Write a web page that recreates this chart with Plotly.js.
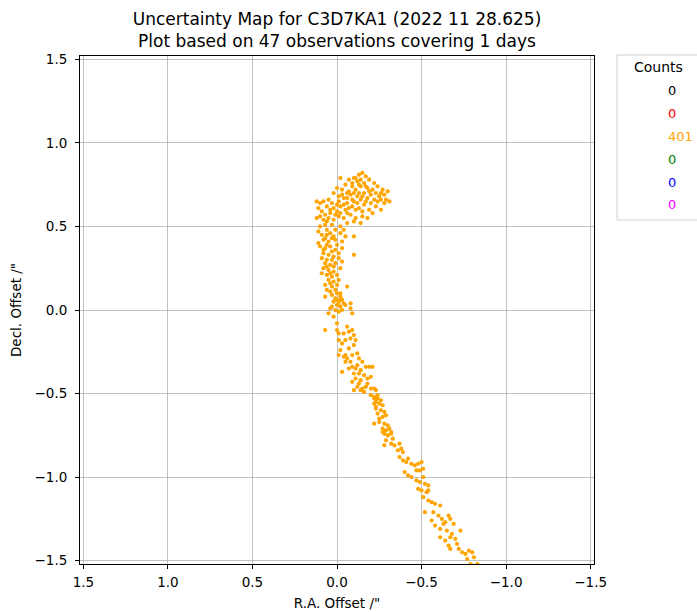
<!DOCTYPE html>
<html>
<head>
<meta charset="utf-8">
<script src="https://cdn.plot.ly/plotly-3.0.1.min.js"></script>
<style>html,body{margin:0;padding:0;background:#fff;}#chart{width:697px;height:612px;}</style>
</head>
<body>
<div id="chart"></div>
<script>
// ---- data: [R.A. offset, Decl. offset] in arcsec ----
var headPoints = [
[-0.02,0.79],[-0.10,0.79],[-0.13,0.81],[-0.15,0.82],[-0.17,0.80],[-0.12,0.77],[-0.19,0.78],[-0.07,0.78],[-0.22,0.76],[-0.16,0.76],
[-0.05,0.75],[-0.09,0.74],[-0.14,0.74],[-0.18,0.73],[-0.21,0.72],[-0.24,0.74],[-0.27,0.72],[-0.30,0.71],[-0.26,0.70],[-0.03,0.72],[-0.07,0.71],[-0.11,0.72],[-0.16,0.70],[-0.20,0.69],[0.00,0.73],
[0.02,0.70],[-0.01,0.68],[-0.04,0.67],[-0.08,0.69],[-0.12,0.68],[-0.14,0.66],[-0.18,0.67],[-0.22,0.66],[-0.25,0.68],[-0.29,0.66],[-0.31,0.65],[-0.28,0.64],[0.05,0.66],[0.03,0.64],[-0.10,0.65],[-0.06,0.64],
[0.12,0.65],[0.10,0.64],[0.08,0.65],[0.11,0.61],[0.06,0.62],[0.02,0.61],[-0.02,0.62],[-0.05,0.60],[-0.09,0.62],[-0.13,0.61],[-0.16,0.63],[-0.19,0.60],[-0.23,0.62],[-0.21,0.58],[-0.26,0.60],[0.00,0.59],[0.04,0.58],[0.09,0.59],[0.07,0.57],
[0.10,0.56],[0.12,0.55],[0.08,0.54],[0.05,0.55],[0.02,0.54],[-0.01,0.56],[-0.04,0.55],[-0.08,0.57],[-0.11,0.55],[-0.15,0.56],[-0.18,0.55],[-0.14,0.52],[-0.06,0.52],[-0.02,0.50],[0.03,0.51],[0.07,0.51],[0.10,0.50],
[-0.11,0.79],[-0.14,0.78],[-0.09,0.76],[-0.13,0.75],[-0.17,0.74],[-0.06,0.70],[-0.10,0.70],[-0.13,0.70],[-0.15,0.68],[-0.03,0.69],[-0.06,0.67],[-0.09,0.66],[-0.01,0.65],[-0.04,0.63],[-0.07,0.61],[-0.11,0.60],
[0.00,0.63],[-0.12,0.64],[-0.20,0.64],[-0.24,0.65],[-0.02,0.58],[-0.06,0.58],[0.04,0.60],[0.01,0.57],[0.06,0.53],[-0.10,0.53],[-0.19,0.71],[-0.23,0.70],[-0.28,0.69],[-0.26,0.66],[-0.17,0.65],[-0.15,0.59]
];
var upperColumnPoints = [
[0.01,0.48],[-0.04,0.48],[0.11,0.47],[0.09,0.45],[0.06,0.48],[0.04,0.46],[0.02,0.44],[-0.02,0.46],[-0.05,0.44],[-0.10,0.44],[0.08,0.42],[0.05,0.41],[0.01,0.42],[-0.03,0.41],[0.11,0.40],[0.07,0.43],
[0.10,0.38],[0.07,0.37],[0.04,0.38],[0.01,0.36],[-0.03,0.37],[0.08,0.34],[0.05,0.33],[0.02,0.32],[-0.01,0.34],[-0.10,0.33],[0.06,0.30],[0.09,0.31],[0.03,0.35],
[0.07,0.28],[0.04,0.27],[0.01,0.28],[-0.03,0.29],[0.08,0.25],[0.05,0.24],[0.02,0.23],[-0.02,0.25],[0.06,0.21],[0.03,0.20],[0.00,0.21],[0.09,0.22],
[0.05,0.18],[0.02,0.17],[-0.01,0.18],[0.07,0.15],[0.03,0.14],[-0.06,0.14],[0.04,0.11],[0.01,0.12],[-0.02,0.10],[0.06,0.12],
[0.06,0.45],[0.03,0.43],[0.00,0.39],[0.06,0.39],[0.03,0.30],[0.06,0.26],[0.04,0.22],[0.04,0.16],[0.00,0.15],[0.08,0.36],[-0.01,0.31],[0.02,0.26]
];
var middlePoints = [
[0.03,0.09],[0.00,0.10],[-0.02,0.08],[0.01,0.07],[-0.03,0.06],[-0.01,0.05],[0.02,0.05],[-0.04,0.04],[0.00,0.03],[-0.02,0.02],[0.03,0.02],[-0.05,0.03],[-0.03,0.00],
[0.01,0.00],[0.04,0.01],[-0.01,-0.01],[-0.08,0.04],[-0.08,0.01],[-0.09,-0.02],[0.05,-0.02],[0.02,-0.04],[-0.02,0.06],[0.00,0.06],[-0.01,0.03],[0.07,0.08]
];
var lowerColumnPoints = [
[0.07,-0.12],[0.00,-0.08],[0.00,-0.12],[-0.01,-0.14],[-0.07,-0.13],[-0.09,-0.12],[-0.04,-0.14],[-0.01,-0.18],[-0.05,-0.18],[-0.08,-0.17],[-0.11,-0.18],[-0.10,-0.21],
[-0.07,-0.23],[-0.02,-0.24],[-0.01,-0.27],[-0.05,-0.27],[-0.09,-0.27],[-0.12,-0.26],[-0.13,-0.29],[-0.15,-0.31],[-0.03,-0.20],[-0.06,-0.10],[-0.10,-0.15]
];
var neckPoints = [
[-0.04,-0.28],[-0.06,-0.29],[-0.05,-0.31],[-0.03,-0.37],[-0.07,-0.35],[-0.09,-0.34],[-0.11,-0.35],[-0.12,-0.33],[-0.10,-0.38],[-0.13,-0.38],[-0.11,-0.41],[-0.14,-0.42],
[-0.18,-0.41],[-0.20,-0.40],[-0.17,-0.34],[-0.19,-0.34],[-0.21,-0.34],[-0.09,-0.43],[-0.12,-0.46],[-0.15,-0.47],[-0.17,-0.46],[-0.20,-0.47],[-0.22,-0.47],[-0.10,-0.48],
[-0.14,-0.48],[-0.16,-0.49],[-0.20,-0.51],[-0.23,-0.48],[-0.24,-0.51],[-0.22,-0.52],[-0.22,-0.53],[-0.24,-0.53],[-0.26,-0.54],[-0.22,-0.56],[-0.25,-0.56],[-0.27,-0.57],
[-0.23,-0.59],[-0.26,-0.60],[-0.28,-0.61],[-0.24,-0.62],[-0.27,-0.64],[-0.29,-0.63],[-0.22,-0.68],[-0.25,-0.67],[-0.28,-0.68],[-0.30,-0.69],[-0.27,-0.71],[-0.29,-0.72],
[-0.31,-0.71],[-0.32,-0.74],[-0.30,-0.75],[-0.08,-0.31],[-0.14,-0.36],[-0.16,-0.39],[-0.13,-0.44],[-0.18,-0.44],[-0.23,-0.58],[-0.25,-0.65],[-0.23,-0.55]
];
var tailPoints = [
[-0.27,-0.73],[-0.28,-0.74],[-0.30,-0.75],[-0.32,-0.73],[-0.29,-0.78],[-0.32,-0.80],[-0.28,-0.81],[-0.33,-0.77],[-0.34,-0.81],[-0.37,-0.80],[-0.38,-0.83],[-0.36,-0.84],[-0.39,-0.85],
[-0.37,-0.88],[-0.39,-0.90],[-0.41,-0.91],[-0.42,-0.89],[-0.44,-0.92],[-0.46,-0.93],[-0.48,-0.92],[-0.50,-0.91],[-0.47,-0.96],[-0.49,-0.96],[-0.51,-0.95],[-0.40,-0.97],
[-0.42,-0.99],[-0.44,-1.00],[-0.47,-1.02],[-0.49,-1.03],[-0.51,-1.00],[-0.52,-1.04],[-0.54,-1.05],[-0.48,-1.07],[-0.50,-1.08],[-0.53,-1.09],[-0.54,-1.08],[-0.51,-1.12],
[-0.54,-1.14],[-0.56,-1.15],[-0.58,-1.16],[-0.61,-1.17],[-0.52,-1.21],[-0.57,-1.21],[-0.60,-1.23],[-0.62,-1.25],[-0.64,-1.27],[-0.66,-1.23],[-0.67,-1.25],[-0.69,-1.28],
[-0.56,-1.26],[-0.58,-1.29],[-0.61,-1.31],[-0.63,-1.28],[-0.65,-1.32],[-0.68,-1.34],[-0.67,-1.36],[-0.70,-1.37],[-0.73,-1.32],[-0.71,-1.40],[-0.61,-1.36],[-0.64,-1.38],
[-0.66,-1.41],[-0.67,-1.43],[-0.72,-1.43],[-0.74,-1.45],[-0.76,-1.46],[-0.78,-1.44],[-0.80,-1.45],[-0.81,-1.48],[-0.77,-1.49],[-0.79,-1.52],[-0.83,-1.52]
];
var tickValues = [1.5, 1.0, 0.5, 0.0, -0.5, -1.0, -1.5];
var tickLabels = ['1.5', '1.0', '0.5', '0.0', '\u22120.5', '\u22121.0', '\u22121.5'];
var countLabels = ['0', '0', '401', '0', '0', '0'];
var countColors = ['black', 'red', 'orange', 'green', 'blue', 'magenta'];

// ---- build ----
var allPoints = [].concat(headPoints, upperColumnPoints, middlePoints, lowerColumnPoints, neckPoints, tailPoints);
var ra = allPoints.map(function(p){return p[0];});
var dec = allPoints.map(function(p){return p[1];});

var W = 697, H = 612, ML = 80, MR = 103, MT = 56, MB = 48;
var PW = W - ML - MR, PH = H - MT - MB;
function px2x(px){ return (px - ML) / PW; }
function py2y(py){ return (H - MB - py) / PH; }

var font = 'DejaVu Sans, sans-serif';
var trace = {
  x: ra, y: dec, type: 'scatter', mode: 'markers',
  marker: {color: 'orange', size: 4.2, line: {width: 0}},
  hoverinfo: 'x+y', showlegend: false
};

var axisCommon = {
  showgrid: true, gridcolor: '#b0b0b0', gridwidth: 0.8,
  showline: true, linecolor: '#000', linewidth: 1, mirror: true,
  ticks: 'outside', ticklen: 4, tickcolor: '#000', tickwidth: 1,
  zeroline: false, tickmode: 'array', tickvals: tickValues, ticktext: tickLabels,
  tickfont: {family: font, size: 13.5, color: '#000'}
};
var xaxis = Object.assign({}, axisCommon, {
  range: [1.52, -1.52], ticklabelstandoff: 2,
  title: {text: 'R.A. Offset /"', font: {family: font, size: 13.5, color: '#000'}, standoff: 9}
});
var yaxis = Object.assign({}, axisCommon, {
  range: [-1.52, 1.52], ticklabelstandoff: 5,
  title: {text: 'Decl. Offset /"', font: {family: font, size: 13.5, color: '#000'}, standoff: 9}
});

var annotations = [{
  xref: 'paper', yref: 'paper', x: px2x(658), y: py2y(67), xanchor: 'center', yanchor: 'middle',
  text: 'Counts', showarrow: false, font: {family: font, size: 14, color: '#000'}
}];
var rowY = [90, 113, 136, 159, 182, 204];
countLabels.forEach(function(lbl, i){
  annotations.push({
    xref: 'paper', yref: 'paper', x: px2x(666), y: py2y(rowY[i]), xanchor: 'left', yanchor: 'middle',
    text: lbl, showarrow: false, font: {family: font, size: 13, color: countColors[i]}
  });
});

var layout = {
  width: W, height: H,
  margin: {l: ML, r: MR, t: MT, b: MB, pad: 0},
  paper_bgcolor: '#fff', plot_bgcolor: '#fff',
  title: {
    text: 'Uncertainty Map for C3D7KA1 (2022 11 28.625)<br>Plot based on 47 observations covering 1 days',
    x: 337 / W, xanchor: 'center', xref: 'container',
    y: 1 - 25 / H, yanchor: 'top', yref: 'container',
    font: {family: font, size: 17, color: '#000'}
  },
  xaxis: xaxis, yaxis: yaxis,
  showlegend: false,
  annotations: annotations,
  shapes: [{
    type: 'rect', xref: 'paper', yref: 'paper', layer: 'above',
    x0: px2x(617), x1: px2x(720), y0: py2y(220), y1: py2y(55),
    line: {color: '#d0d0d0', width: 1}, fillcolor: 'rgba(255,255,255,0.8)'
  }]
};

Plotly.newPlot('chart', [trace], layout, {displayModeBar: false, staticPlot: true});
</script>
</body>
</html>
